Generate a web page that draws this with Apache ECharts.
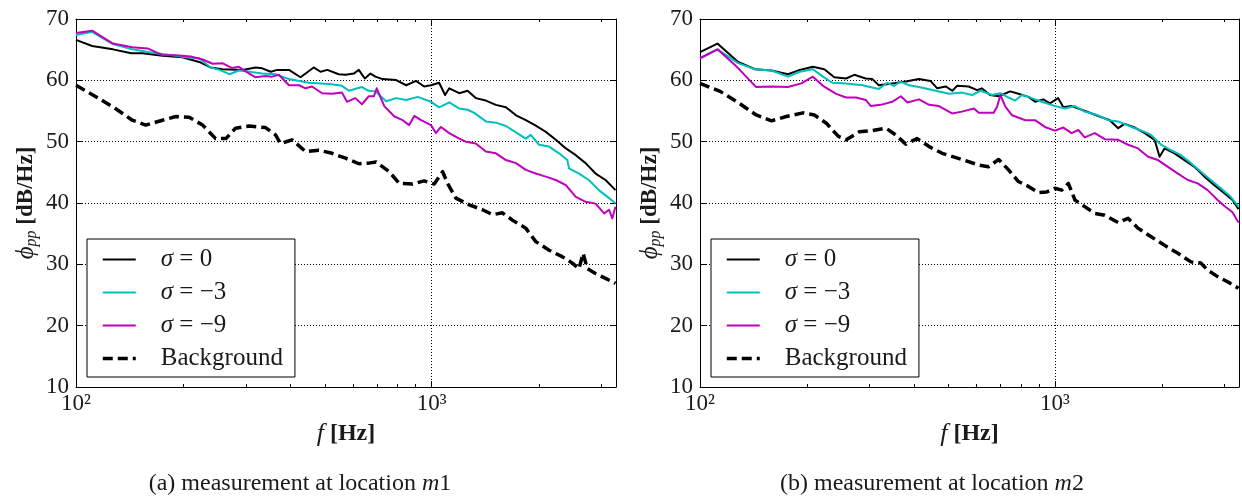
<!DOCTYPE html>
<html>
<head>
<meta charset="utf-8">
<script src="https://cdn.jsdelivr.net/npm/echarts@6/dist/echarts.min.js"></script>
<style>
html,body{margin:0;padding:0;background:#fff;}
#chart{width:1242px;height:497px;}
</style>
</head>
<body>
<div id="chart"></div>
<script>
// ---------- DATA ----------
const seriesNames = ['σ = 0', 'σ = −3', 'σ = −9', 'Background'];
const xTickLabels = {100: '10²', 1000: '10³'};
const yTicks = [10, 20, 30, 40, 50, 60, 70];
const minorTicks = [200, 300, 400, 500, 600, 700, 800, 900, 2000, 3000];
const captions = ['(a) measurement at location ', '(b) measurement at location '];
const captionVars = ['m1', 'm2'];

// (a) location m1
const m1_s0_f = [100,111,127,143,154,175,199,222,239,258,294,320,334,353,368,397,428,466,487,509,548,573,604,624,649,673,695,728,795,848,904,953,996,1050,1091,1121,1196,1262,1331,1421,1516,1618,1727,1840,1963,2095,2235,2385,2544,2710,2891,3084,3289];
const m1_s0_v = [66.6,65.6,65.05,64.4,64.4,64.0,63.75,63.0,62.1,61.8,61.7,62.1,61.96,61.4,61.7,61.7,60.5,62.1,61.4,61.7,61.0,60.9,61.1,61.7,60.3,61.1,60.6,60.2,60.05,59.2,59.9,59.0,59.2,59.6,57.6,58.7,57.9,58.3,57.1,56.7,56.0,55.6,54.3,53.5,52.6,51.6,50.3,48.9,47.8,46.5,44.8,43.75,42.1];

const m1_s3_f = [100,111,127,144,164,187,203,222,239,253,270,287,307,334,364,397,451,515,560,585,637,665,695,745,795,848,914,996,1050,1121,1196,1262,1318,1421,1516,1618,1727,1840,1900,2005,2140,2282,2409,2434,2597,2768,2953,3155,3289];
const m1_s3_v = [67.4,67.9,65.9,65.05,64.5,64.1,63.75,63.6,62.1,61.7,61.0,61.6,61.4,61.1,61.0,60.2,59.6,59.4,59.1,58.3,58.9,58.3,58.2,56.6,57.1,56.8,57.3,56.5,55.6,56.4,55.4,55.2,54.7,53.3,53.1,52.55,51.5,50.5,51.1,49.5,49.2,48.1,47.0,45.65,44.8,43.75,42.1,40.8,39.9];

const m1_s9_f = [100,111,127,144,159,175,191,210,227,242,258,275,287,307,320,341,356,372,397,424,442,461,492,525,560,578,610,637,665,688,701,736,786,829,865,894,934,996,1028,1062,1121,1196,1248,1331,1421,1516,1618,1727,1840,1963,2095,2235,2385,2544,2710,2891,3055,3155,3222,3289];
const m1_s9_v = [67.7,68.1,66.0,65.4,65.2,64.1,64.1,63.9,63.4,62.7,62.8,62.0,62.2,61.1,60.5,60.7,60.6,60.9,59.2,59.2,58.7,59.0,57.9,57.8,58.0,56.5,57.1,56.1,57.4,57.4,58.7,55.8,54.1,53.5,52.7,54.2,53.5,52.7,51.4,52.4,51.4,50.5,50.0,49.7,48.4,48.1,47.0,46.5,45.4,44.8,44.3,43.75,42.9,41.0,40.2,39.9,38.3,38.9,37.5,39.4];

const m1_bg_f = [100,114,129,144,157,175,191,208,227,247,264,281,307,341,364,376,405,442,482,525,573,624,665,698,760,811,885,953,1017,1074,1109,1170,1276,1390,1484,1582,1688,1840,1963,2140,2330,2487,2597,2667,2740,2891,3084,3289];
const m1_bg_v = [59.2,57.3,55.4,53.5,52.7,53.5,54.1,54.0,52.7,50.5,50.5,52.2,52.55,52.3,51.1,49.7,50.3,48.4,48.6,48.1,47.3,46.4,46.5,46.7,45.1,43.2,43.1,43.6,43.1,45.1,43.2,40.8,39.7,38.9,38.1,38.4,37.2,35.9,33.7,32.3,31.25,30.2,29.3,31.8,29.3,28.5,27.7,26.9];

// (b) location m2
const m2_s0_f = [100,112,128,143,159,177,191,208,224,239,258,272,293,306,319,348,380,414,446,466,492,514,530,571,604,622,656,694,748,789,842,879,927,968,1021,1056,1114,1189,1268,1337,1426,1507,1571,1678,1790,1909,1971,2036,2172,2317,2472,2637,2813,3001,3164,3289];
const m2_s0_v = [64.6,66.0,63.0,61.8,61.6,61.0,61.7,62.2,61.8,60.5,60.3,60.9,60.3,60.2,59.2,59.5,59.8,60.2,59.9,58.7,59.0,58.3,59.1,59.0,58.4,58.7,57.6,57.4,58.2,57.8,57.3,56.5,56.9,56.25,57.1,55.6,55.8,55.2,54.6,54.1,53.5,52.2,52.9,52.3,51.4,50.3,47.55,48.9,48.1,47.0,45.9,44.3,42.9,41.6,40.5,39.0];

const m2_s3_f = [100,112,128,143,159,177,191,208,222,236,258,287,319,337,352,367,388,414,461,503,547,584,617,665,702,733,773,807,861,918,1000,1067,1138,1213,1323,1412,1507,1642,1790,1866,1991,2125,2266,2417,2578,2749,2933,3128,3289];
const m2_s3_v = [63.6,65.05,62.8,61.8,61.6,60.6,61.4,61.8,60.6,59.6,59.5,59.2,58.6,59.6,59.1,59.8,59.2,58.9,58.3,57.8,58.0,57.6,58.3,57.6,57.9,57.3,56.7,57.6,57.1,56.5,55.8,55.4,55.8,54.9,54.3,53.5,53.3,52.4,51.6,51.1,49.5,48.6,47.8,46.5,45.1,43.75,42.4,41.0,39.4];

const m2_s9_f = [100,112,127,144,159,177,193,208,222,242,258,275,293,303,323,348,368,384,414,442,471,513,547,591,610,672,687,702,725,757,825,879,937,1000,1056,1114,1164,1213,1295,1381,1507,1607,1714,1829,1951,2081,2220,2368,2525,2693,2872,3001,3164,3289];
const m2_s9_v = [63.6,65.05,62.2,58.9,59.0,58.9,59.5,60.6,59.1,57.8,57.2,57.2,56.8,55.8,56.0,56.5,57.4,56.4,56.9,56.0,55.8,54.6,54.9,55.4,54.7,54.7,55.7,57.6,55.7,54.3,53.5,53.5,52.4,51.8,52.3,51.4,51.9,50.7,51.4,50.4,50.3,49.5,48.9,47.55,47.0,45.9,44.8,43.75,43.2,42.1,40.5,39.5,38.5,36.8];

const m2_bg_f = [100,114,129,144,159,175,195,210,227,245,258,281,306,334,356,380,409,442,481,547,610,650,694,740,789,842,898,948,1000,1045,1091,1138,1213,1295,1381,1507,1607,1714,1866,2036,2220,2417,2578,2693,2872,3064,3289];
const m2_bg_v = [59.5,58.2,56.25,54.35,53.4,54.1,54.7,54.35,53.0,50.9,50.3,51.6,51.8,52.2,51.1,49.6,50.5,49.2,48.1,47.1,46.2,45.9,47.1,45.4,43.5,42.7,41.7,41.8,42.4,42.1,43.2,40.5,39.4,38.3,38.0,36.8,37.5,35.9,34.5,33.1,31.8,30.4,30.2,29.05,28.0,27.15,26.1];

// ---------- CHART ----------
const FONT = '"Liberation Serif", "DejaVu Serif", serif';
const TXT = '#1a1a1a';
const X_MIN = 100, X_MAX = 3300, Y_MIN = 10, Y_MAX = 70;
const colors = ['#000000', '#00bfbf', '#bf00bf', '#000000'];
const widths = [2, 2, 2, 3.5];

function zip(f, v) { return f.map((x, i) => [x, v[i]]); }

const panels = [
  {left: 76, capX: 300, data: [[m1_s0_f, m1_s0_v], [m1_s3_f, m1_s3_v], [m1_s9_f, m1_s9_v], [m1_bg_f, m1_bg_v]]},
  {left: 700, capX: 932, data: [[m2_s0_f, m2_s0_v], [m2_s3_f, m2_s3_v], [m2_s9_f, m2_s9_v], [m2_bg_f, m2_bg_v]]}
];

const grid = [], xAxis = [], yAxis = [], series = [], legend = [], graphic = [];

const dotted = {show: true, lineStyle: {color: '#000', width: 1, type: [1, 2]}};

panels.forEach((p, gi) => {
  grid.push({left: p.left, top: 19, width: 540, height: 368, containLabel: false});
  xAxis.push({
    type: 'log', logBase: 10, gridIndex: gi, min: X_MIN, max: X_MAX, position: 'bottom',
    axisLine: {onZero: false, lineStyle: {color: '#000', width: 1}},
    axisTick: {inside: true, length: 6, lineStyle: {color: '#000'}},
    axisLabel: {
      margin: 5, color: TXT, fontFamily: FONT, fontSize: 23,
      formatter: v => { const k = Math.round(v); return xTickLabels[k] || ''; }
    },
    splitLine: {show: true, lineStyle: {color: '#000', width: 1, type: [1, 2]}},
    name: '{i|f} {b|[Hz]}', nameLocation: 'middle', nameGap: 34,
    nameTextStyle: {
      color: TXT, fontFamily: FONT, fontSize: 24,
      rich: {
        i: {fontStyle: 'italic', fontFamily: FONT, fontSize: 26, color: TXT},
        b: {fontWeight: 'bold', fontFamily: FONT, fontSize: 24, color: TXT}
      }
    }
  });
  xAxis.push({
    type: 'log', logBase: 10, gridIndex: gi, min: X_MIN, max: X_MAX, position: 'top',
    axisLine: {onZero: false, lineStyle: {color: '#000', width: 1}},
    axisTick: {inside: true, length: 6, lineStyle: {color: '#000'}},
    axisLabel: {show: false}, splitLine: {show: false}
  });
  yAxis.push({
    type: 'value', gridIndex: gi, min: Y_MIN, max: Y_MAX, interval: 10, position: 'left',
    axisLine: {show: true, onZero: false, lineStyle: {color: '#000', width: 1}},
    axisTick: {show: true, inside: true, length: 6, lineStyle: {color: '#000'}},
    axisLabel: {margin: 7, color: TXT, fontFamily: FONT, fontSize: 23,
      formatter: v => yTicks.indexOf(v) >= 0 ? String(v) : ''},
    splitLine: dotted,
    name: '{phi|ϕ}{sub|pp} {b|[dB/Hz]}', nameLocation: 'middle', nameRotate: 90, nameGap: 36,
    nameTextStyle: {
      color: TXT, fontFamily: FONT, fontSize: 23,
      rich: {
        phi: {fontFamily: FONT, fontStyle: 'italic', fontSize: 25, color: TXT, lineHeight: 28, verticalAlign: 'middle'},
        sub: {fontFamily: FONT, fontStyle: 'italic', fontSize: 16, color: TXT, lineHeight: 12, verticalAlign: 'bottom'},
        b: {fontFamily: FONT, fontWeight: 'bold', fontSize: 23, color: TXT, lineHeight: 28, verticalAlign: 'middle'}
      }
    }
  });
  yAxis.push({
    type: 'value', gridIndex: gi, min: Y_MIN, max: Y_MAX, interval: 10, position: 'right',
    axisLine: {show: true, onZero: false, lineStyle: {color: '#000', width: 1}},
    axisTick: {show: true, inside: true, length: 6, lineStyle: {color: '#000'}},
    axisLabel: {show: false}, splitLine: {show: false}
  });

  const xi = gi * 2, yi = gi * 2;
  p.data.forEach((d, si) => {
    const isBg = si === 3;
    series.push({
      name: seriesNames[si], type: 'line', xAxisIndex: xi, yAxisIndex: yi,
      data: zip(d[0], d[1]), symbol: 'none', smooth: false, animation: false,
      z: 3 + si,
      lineStyle: {color: colors[si], width: widths[si], type: isBg ? [10, 5] : 'solid', join: 'round'},
      itemStyle: {color: colors[si]}
    });
  });
  series.push({
    type: 'custom', xAxisIndex: xi, yAxisIndex: yi, silent: true, animation: false, z: 10,
    data: minorTicks.map(v => [v, Y_MIN]), encode: {x: 0, y: 1}, clip: false,
    renderItem: function (params, api) {
      const f = api.value(0);
      const b = api.coord([f, Y_MIN]);
      const t = api.coord([f, Y_MAX]);
      const x = Math.round(b[0]) + 0.5;
      return {type: 'group', children: [
        {type: 'line', shape: {x1: x, y1: b[1], x2: x, y2: b[1] - 3}, style: {stroke: '#000', lineWidth: 1}},
        {type: 'line', shape: {x1: x, y1: t[1], x2: x, y2: t[1] + 3}, style: {stroke: '#000', lineWidth: 1}}
      ]};
    }
  });

  legend.push({
    data: seriesNames.map((n, si) => ({name: n, lineStyle: {width: widths[si]}})),
    orient: 'vertical', left: p.left + 11, top: 239,
    backgroundColor: '#fff', borderColor: '#000', borderWidth: 1, borderRadius: 0,
    padding: [8, 12, 6, 14], itemGap: 8, itemWidth: 33, itemHeight: 14,
    selectedMode: false,
    itemStyle: {opacity: 0},
    textStyle: {
      color: TXT, fontFamily: FONT, fontSize: 25, lineHeight: 22, padding: [0, 0, 0, 20],
      rich: {
        i: {fontFamily: FONT, fontStyle: 'italic', fontSize: 25, color: TXT, lineHeight: 22},
        n: {fontFamily: FONT, fontSize: 25, color: TXT, lineHeight: 22}
      }
    },
    formatter: name => {
      if (name === 'Background') return '{n|Background}';
      return '{i|σ}{n|' + name.slice(1) + '}';
    }
  });

  graphic.push({
    type: 'text', x: p.capX, y: 484,
    style: {
      text: '{n|' + captions[gi] + '}{i|' + captionVars[gi][0] + '}{n|' + captionVars[gi].slice(1) + '}',
      align: 'center', verticalAlign: 'middle',
      rich: {
        n: {fontFamily: FONT, fontSize: 24, fill: TXT},
        i: {fontFamily: FONT, fontStyle: 'italic', fontSize: 24, fill: TXT}
      }
    }
  });
});

const chart = echarts.init(document.getElementById('chart'), null, {renderer: 'canvas'});
chart.setOption({
  animation: false,
  backgroundColor: '#fff',
  grid, xAxis, yAxis, series, legend, graphic
});
</script>
</body>
</html>
